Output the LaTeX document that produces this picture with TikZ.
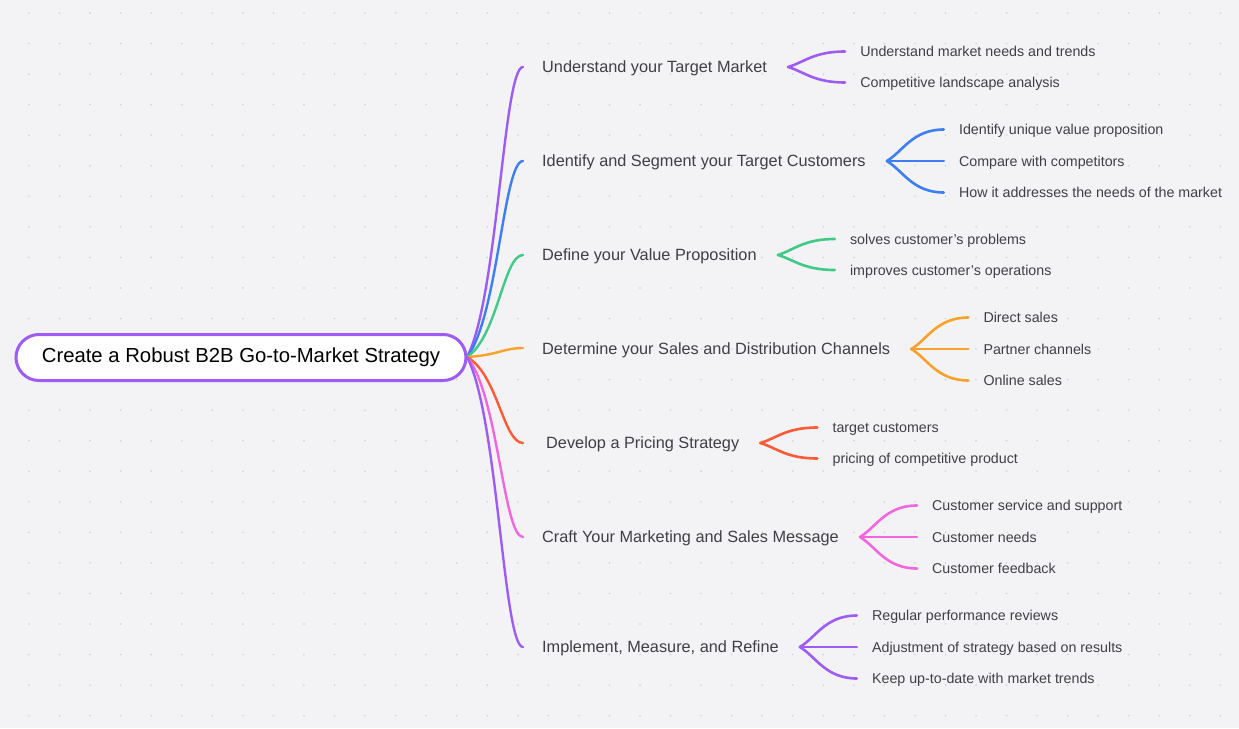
\documentclass[tikz,border=0pt]{standalone}
\usepackage{fontspec}
\setmainfont{Liberation Sans}
\usetikzlibrary{calc}
\definecolor{bg}{HTML}{F3F3F5}
\definecolor{dotc}{HTML}{D2D2D6}
\definecolor{txt}{HTML}{3F3F46}
\definecolor{cpurple}{HTML}{9D5CF6}
\definecolor{cblue}{HTML}{3D7EF5}
\definecolor{cgreen}{HTML}{40C987}
\definecolor{corange}{HTML}{F9A12B}
\definecolor{cred}{HTML}{FF5A36}
\definecolor{cpink}{HTML}{F266E0}
\tikzset{
  rootbox/.style={draw=cpurple, line width=3pt, fill=white, rounded corners=23pt,
    minimum width=450pt, minimum height=46pt, inner sep=0pt,
    font=\fontsize{20.3}{24}\selectfont, text=black},
  lvlone/.style={inner sep=0pt, anchor=west, text=txt, text height=11.6pt, text depth=0pt,
    font=\fontsize{16.3}{19}\selectfont},
  leaf/.style={inner sep=0pt, anchor=west, text=txt, text height=10.2pt, text depth=0pt,
    font=\fontsize{14.25}{17}\selectfont},
  brone/.style={line width=2.4pt, line cap=round},
  brtwo/.style={line width=2.6pt, line cap=round}
}
\newcommand\curveA[3]{\draw[brone,#3] let \p1=(#1), \p2=(#2) in (\p1) .. controls ({\x1+0.55*(\x2-\x1)},{\y1+0.2*(\y2-\y1)}) and ({\x2-0.35*(\x2-\x1)},\y2) .. (\p2);}
\newcommand\curveB[3]{\draw[brtwo,#3] let \p1=(#1), \p2=(#2) in (\p1) .. controls ({\x1+0.28*(\x2-\x1)},{\y1+0.3*(\y2-\y1)}) and ({\x1+0.45*(\x2-\x1)},\y2) .. (\p2);}
\begin{document}
\begin{tikzpicture}[x=1pt,y=-1pt]
\fill[bg] (0,0) rectangle (1239,728);
\useasboundingbox (0,0) rectangle (1239,728);
\foreach \i in {0,...,40} \foreach \j in {0,...,23} \fill[dotc] ({29+30.55*\i},{13+30.55*\j}) circle (0.9);

% root
\node[rootbox] (root) at (241,357.5) {Create a Robust B2B Go-to-Market Strategy};
\coordinate (R) at (467,357);

% level one
\coordinate (B1) at (523,67);
\coordinate (B2) at (523,161);
\coordinate (B3) at (523,255);
\coordinate (B4) at (523,348);
\coordinate (B5) at (523,443);
\coordinate (B6) at (523,537);
\coordinate (B7) at (523,647);
\node[lvlone] (L1) at (542,67) {Understand your Target Market};
\node[lvlone] (L2) at (542,161) {Identify and Segment your Target Customers};
\node[lvlone] (L3) at (542,255) {Define your Value Proposition};
\node[lvlone] (L4) at (542,349) {Determine your Sales and Distribution Channels};
\node[lvlone] (L5) at (546,443) {Develop a Pricing Strategy};
\node[lvlone] (L6) at (542,537) {Craft Your Marketing and Sales Message};
\node[lvlone] (L7) at (542,647) {Implement, Measure, and Refine};

\curveA{R}{B1}{cpurple}
\curveA{R}{B2}{cblue}
\curveA{R}{B3}{cgreen}
\curveA{R}{B4}{corange}
\curveA{R}{B5}{cred}
\curveA{R}{B6}{cpink}
\curveA{R}{B7}{cpurple}

% junctions
\foreach \k in {1,...,7} \coordinate (J\k) at ($(L\k.east)+(21,0)$);

% group 1
\coordinate (E1a) at ($(J1)+(57,-15.5)$);
\coordinate (E1b) at ($(J1)+(57,15.5)$);
\node[leaf] (T1a) at ($(E1a)+(15,0)$) {Understand market needs and trends};
\node[leaf] (T1b) at ($(E1b)+(15,0)$) {Competitive landscape analysis};
\curveB{J1}{E1a}{cpurple}
\curveB{J1}{E1b}{cpurple}

% group 2
\coordinate (E2a) at ($(J2)+(57,-31.5)$);
\coordinate (E2b) at ($(J2)+(57,0)$);
\coordinate (E2c) at ($(J2)+(57,31.5)$);
\node[leaf] (T2a) at ($(E2a)+(15,0)$) {Identify unique value proposition};
\node[leaf] (T2b) at ($(E2b)+(15,0)$) {Compare with competitors};
\node[leaf] (T2c) at ($(E2c)+(15,0)$) {How it addresses the needs of the market};
\curveB{J2}{E2a}{cblue}
\curveB{J2}{E2b}{cblue}
\curveB{J2}{E2c}{cblue}

% group 3
\coordinate (E3a) at ($(J3)+(57,-16)$);
\coordinate (E3b) at ($(J3)+(57,15)$);
\node[leaf] (T3a) at ($(E3a)+(15,0)$) {solves customer's problems};
\node[leaf] (T3b) at ($(E3b)+(15,0)$) {improves customer's operations};
\curveB{J3}{E3a}{cgreen}
\curveB{J3}{E3b}{cgreen}

% group 4
\coordinate (E4a) at ($(J4)+(57,-31.5)$);
\coordinate (E4b) at ($(J4)+(57,0)$);
\coordinate (E4c) at ($(J4)+(57,31.5)$);
\node[leaf] (T4a) at ($(E4a)+(15,0)$) {Direct sales};
\node[leaf] (T4b) at ($(E4b)+(15,0)$) {Partner channels};
\node[leaf] (T4c) at ($(E4c)+(15,0)$) {Online sales};
\curveB{J4}{E4a}{corange}
\curveB{J4}{E4b}{corange}
\curveB{J4}{E4c}{corange}

% group 5
\coordinate (E5a) at ($(J5)+(57,-15.5)$);
\coordinate (E5b) at ($(J5)+(57,15.5)$);
\node[leaf] (T5a) at ($(E5a)+(15,0)$) {target customers};
\node[leaf] (T5b) at ($(E5b)+(15,0)$) {pricing of competitive product};
\curveB{J5}{E5a}{cred}
\curveB{J5}{E5b}{cred}

% group 6
\coordinate (E6a) at ($(J6)+(57,-31.5)$);
\coordinate (E6b) at ($(J6)+(57,0)$);
\coordinate (E6c) at ($(J6)+(57,31.5)$);
\node[leaf] (T6a) at ($(E6a)+(15,0)$) {Customer service and support};
\node[leaf] (T6b) at ($(E6b)+(15,0)$) {Customer needs};
\node[leaf] (T6c) at ($(E6c)+(15,0)$) {Customer feedback};
\curveB{J6}{E6a}{cpink}
\curveB{J6}{E6b}{cpink}
\curveB{J6}{E6c}{cpink}

% group 7
\coordinate (E7a) at ($(J7)+(57,-31.5)$);
\coordinate (E7b) at ($(J7)+(57,0)$);
\coordinate (E7c) at ($(J7)+(57,31.5)$);
\node[leaf] (T7a) at ($(E7a)+(15,0)$) {Regular performance reviews};
\node[leaf] (T7b) at ($(E7b)+(15,0)$) {Adjustment of strategy based on results};
\node[leaf] (T7c) at ($(E7c)+(15,0)$) {Keep up-to-date with market trends};
\curveB{J7}{E7a}{cpurple}
\curveB{J7}{E7b}{cpurple}
\curveB{J7}{E7c}{cpurple}
\end{tikzpicture}
\end{document}
